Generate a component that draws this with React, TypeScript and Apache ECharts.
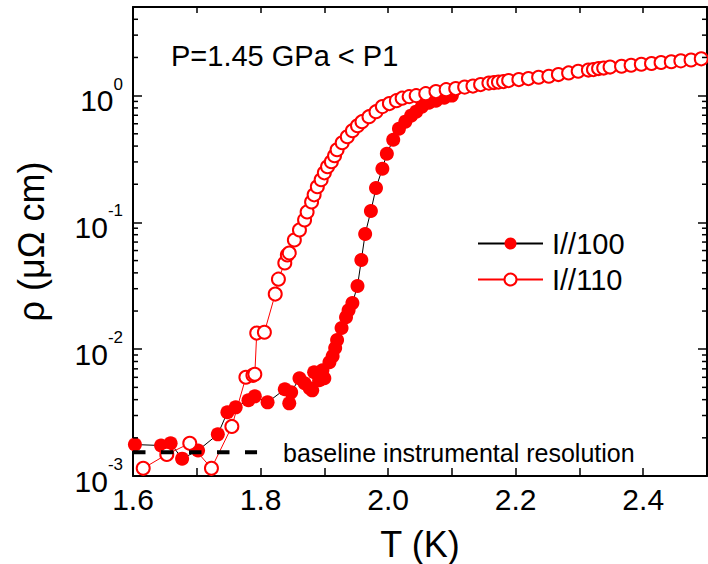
import React, { useEffect, useRef } from "react";
import * as echarts from "echarts";

const FONT = "'Liberation Sans', Arial, Helvetica, sans-serif";

// I//100 (filled circles)
const T_100 = [
  1.603, 1.644, 1.659, 1.677, 1.702, 1.733, 1.748, 1.761, 1.781, 1.791,
  1.811, 1.838, 1.845, 1.848, 1.861, 1.869, 1.877, 1.881, 1.884, 1.892,
  1.897, 1.9, 1.908, 1.913, 1.917, 1.92, 1.927, 1.934, 1.938, 1.944,
  1.952, 1.958, 1.964, 1.973, 1.981, 1.991, 1.998, 2.008, 2.017, 2.027,
  2.036, 2.044, 2.053, 2.064, 2.075, 2.088, 2.1,
];
const R_100 = [
  0.00177, 0.00174, 0.00181, 0.00137, 0.00159, 0.00213, 0.00318, 0.00348, 0.00396, 0.00425,
  0.00381, 0.00483, 0.00374, 0.00457, 0.0059, 0.00539, 0.00492, 0.00474, 0.00658, 0.00569,
  0.00682, 0.0059, 0.00789, 0.00881, 0.0102, 0.0118, 0.0147, 0.0179, 0.0203, 0.0231,
  0.0315, 0.0505, 0.0811, 0.123, 0.187, 0.265, 0.348, 0.449, 0.548, 0.623,
  0.695, 0.747, 0.819, 0.88, 0.913, 0.964, 1.0,
];

// I//110 (open circles)
const T_110 = [
  1.616, 1.653, 1.689, 1.723, 1.755, 1.777, 1.788, 1.791, 1.794, 1.806,
  1.823, 1.828, 1.838, 1.842, 1.845, 1.853, 1.861, 1.869, 1.873, 1.88,
  1.884, 1.889, 1.895, 1.9, 1.905, 1.911, 1.916, 1.92, 1.928, 1.936,
  1.944, 1.952, 1.959, 1.97, 1.981, 1.991, 2.002, 2.013, 2.022, 2.033,
  2.044, 2.059, 2.075, 2.091, 2.106, 2.12, 2.133, 2.145, 2.158, 2.166,
  2.173, 2.181, 2.189, 2.205, 2.22, 2.236, 2.252, 2.267, 2.283, 2.298,
  2.314, 2.322, 2.33, 2.338, 2.348, 2.366, 2.381, 2.397, 2.413, 2.428,
  2.444, 2.459, 2.475, 2.491,
];
const R_110 = [
  0.00115, 0.00148, 0.00181, 0.00115, 0.00246, 0.00601, 0.00622, 0.00634, 0.0134, 0.0136,
  0.0272, 0.0357, 0.0479, 0.0553, 0.0574, 0.0727, 0.0873, 0.1047, 0.121, 0.145,
  0.165, 0.191, 0.217, 0.246, 0.275, 0.301, 0.336, 0.374, 0.425, 0.474,
  0.529, 0.579, 0.623, 0.682, 0.747, 0.819, 0.865, 0.913, 0.955, 0.982,
  1.0, 1.037, 1.076, 1.115, 1.136, 1.167, 1.189, 1.222, 1.255, 1.267,
  1.279, 1.29, 1.314, 1.338, 1.363, 1.395, 1.421, 1.466, 1.511, 1.556,
  1.591, 1.605, 1.635, 1.65, 1.68, 1.705, 1.736, 1.768, 1.791, 1.824,
  1.85, 1.88, 1.91, 1.95,
];

// baseline instrumental resolution (dashed)
const BASELINE_T = [1.6, 1.7945];
const BASELINE_R = [0.00154, 0.00154];

// axes
const X_MIN = 1.6;
const X_MAX = 2.5;
const X_INTERVAL = 0.1;
const Y_MIN = 0.001;
const Y_MAX = 5;
const Y_MINOR = [
  0.002, 0.003, 0.004, 0.005, 0.006, 0.007, 0.008, 0.009,
  0.02, 0.03, 0.04, 0.05, 0.06, 0.07, 0.08, 0.09,
  0.2, 0.3, 0.4, 0.5, 0.6, 0.7, 0.8, 0.9,
  2, 3, 4,
];

const SERIES_NAMES = ["I//100", "I//110"];
const TITLE_TEXT = "P=1.45 GPa < P1";
const BASELINE_TEXT = "baseline instrumental resolution";
const X_NAME = "T (K)";
const Y_NAME = "ρ (μΩ cm)";

const W = 708;
const H = 564;

export default function App() {
  const ref = useRef<HTMLDivElement>(null);

  useEffect(() => {
    if (!ref.current) return;
    document.body.style.margin = "0";
    document.body.style.overflow = "hidden";
    const chart = echarts.init(ref.current, null, { renderer: "svg", width: W, height: H });

    const yLabelFormatter = (v: number) => {
      const e = Math.round(Math.log10(v));
      if (Math.abs(v / Math.pow(10, e) - 1) > 1e-6) return "";
      return `{b|10}{s|${e}}`;
    };
    const xLabelFormatter = (v: number) => {
      const k = Math.round(v * 10);
      if (k % 2 !== 0) return "";
      return (k / 10).toFixed(1);
    };

    const axisLine = { show: true, lineStyle: { color: "#000", width: 2 } };

    const option: any = {
      animation: false,
      backgroundColor: "#fff",
      grid: { left: 133, right: 1, top: 7, bottom: 88, containLabel: false, outerBoundsMode: "none" },
      xAxis: [
        {
          type: "value",
          min: X_MIN,
          max: X_MAX,
          interval: X_INTERVAL,
          axisLine,
          axisTick: { show: true, inside: true, length: 8, lineStyle: { color: "#000", width: 1.5 } },
          axisLabel: {
            formatter: xLabelFormatter,
            fontSize: 30,
            fontFamily: FONT,
            color: "#000",
            margin: 8,
            showMaxLabel: false,
          },
          splitLine: { show: false },
          name: X_NAME,
          nameLocation: "middle",
          nameGap: 50,
          nameTextStyle: { fontSize: 36, fontFamily: FONT, color: "#000" },
        },
        {
          type: "value",
          position: "top",
          min: X_MIN,
          max: X_MAX,
          interval: X_INTERVAL,
          axisLine,
          axisTick: { show: true, inside: true, length: 6, lineStyle: { color: "#000", width: 1.5 } },
          axisLabel: { show: false },
          splitLine: { show: false },
        },
      ],
      yAxis: [
        {
          type: "log",
          logBase: 10,
          min: Y_MIN,
          max: Y_MAX,
          axisLine,
          axisTick: { show: true, inside: true, length: 9, lineStyle: { color: "#000", width: 1.5 } },
          axisLabel: {
            formatter: yLabelFormatter,
            margin: 10,
            showMaxLabel: false,
            rich: {
              b: { fontSize: 30, fontFamily: FONT, color: "#000", lineHeight: 40, verticalAlign: "bottom" },
              s: { fontSize: 17, fontFamily: FONT, color: "#000", lineHeight: 17, verticalAlign: "top" },
            },
          },
          splitLine: { show: false },
          name: Y_NAME,
          nameLocation: "middle",
          nameGap: 84,
          nameTextStyle: { fontSize: 36, fontFamily: FONT, color: "#000" },
        },
        {
          type: "log",
          logBase: 10,
          position: "right",
          min: Y_MIN,
          max: Y_MAX,
          axisLine,
          axisTick: { show: true, inside: true, length: 9, lineStyle: { color: "#000", width: 1.5 } },
          axisLabel: { show: false },
          splitLine: { show: false },
        },
      ],
      legend: {
        data: SERIES_NAMES,
        orient: "vertical",
        left: 477,
        top: 229,
        padding: 0,
        itemWidth: 65,
        itemHeight: 15,
        itemGap: 7,
        textStyle: { fontSize: 29, fontFamily: FONT, color: "#000", padding: [0, 0, 0, 4] },
      },
      graphic: [
        {
          type: "text",
          left: 171,
          top: 41,
          style: { text: TITLE_TEXT, fontSize: 29, fontFamily: FONT, fill: "#000" },
        },
        {
          type: "text",
          left: 283,
          top: 440,
          style: { text: BASELINE_TEXT, fontSize: 25, fontFamily: FONT, fill: "#000" },
        },
      ],
      series: [
        {
          name: SERIES_NAMES[0],
          type: "line",
          data: T_100.map((t, i) => [t, R_100[i]]),
          symbol: "circle",
          symbolSize: 14,
          itemStyle: { color: "#ff0000" },
          lineStyle: { color: "#000", width: 1 },
          z: 2,
        },
        {
          name: SERIES_NAMES[1],
          type: "line",
          data: T_110.map((t, i) => [t, R_110[i]]),
          symbol: "emptyCircle",
          symbolSize: 13,
          itemStyle: { color: "#ff0000", borderWidth: 1.2 },
          lineStyle: { color: "#ff0000", width: 1 },
          z: 3,
        },
        {
          name: "baseline",
          type: "line",
          data: BASELINE_T.map((t, i) => [t, BASELINE_R[i]]),
          symbol: "none",
          lineStyle: { color: "#000", width: 4, type: [12.5, 15.5] },
          z: 4,
          silent: true,
        },
        {
          name: "minorTicks",
          type: "custom",
          data: Y_MINOR.map((v) => [X_MIN, v]),
          z: 5,
          silent: true,
          clip: false,
          renderItem: (params: any, api: any) => {
            const v = api.value(1);
            const pl = api.coord([X_MIN, v]);
            const pr = api.coord([X_MAX, v]);
            const st = { stroke: "#000", lineWidth: 1.5 };
            return {
              type: "group",
              children: [
                { type: "line", shape: { x1: pl[0], y1: pl[1], x2: pl[0] + 5, y2: pl[1] }, style: st },
                { type: "line", shape: { x1: pr[0], y1: pr[1], x2: pr[0] - 5, y2: pr[1] }, style: st },
              ],
            };
          },
        },
      ],
    };

    chart.setOption(option);
    return () => chart.dispose();
  }, []);

  return <div ref={ref} style={{ width: W, height: H, background: "#fff" }} />;
}
